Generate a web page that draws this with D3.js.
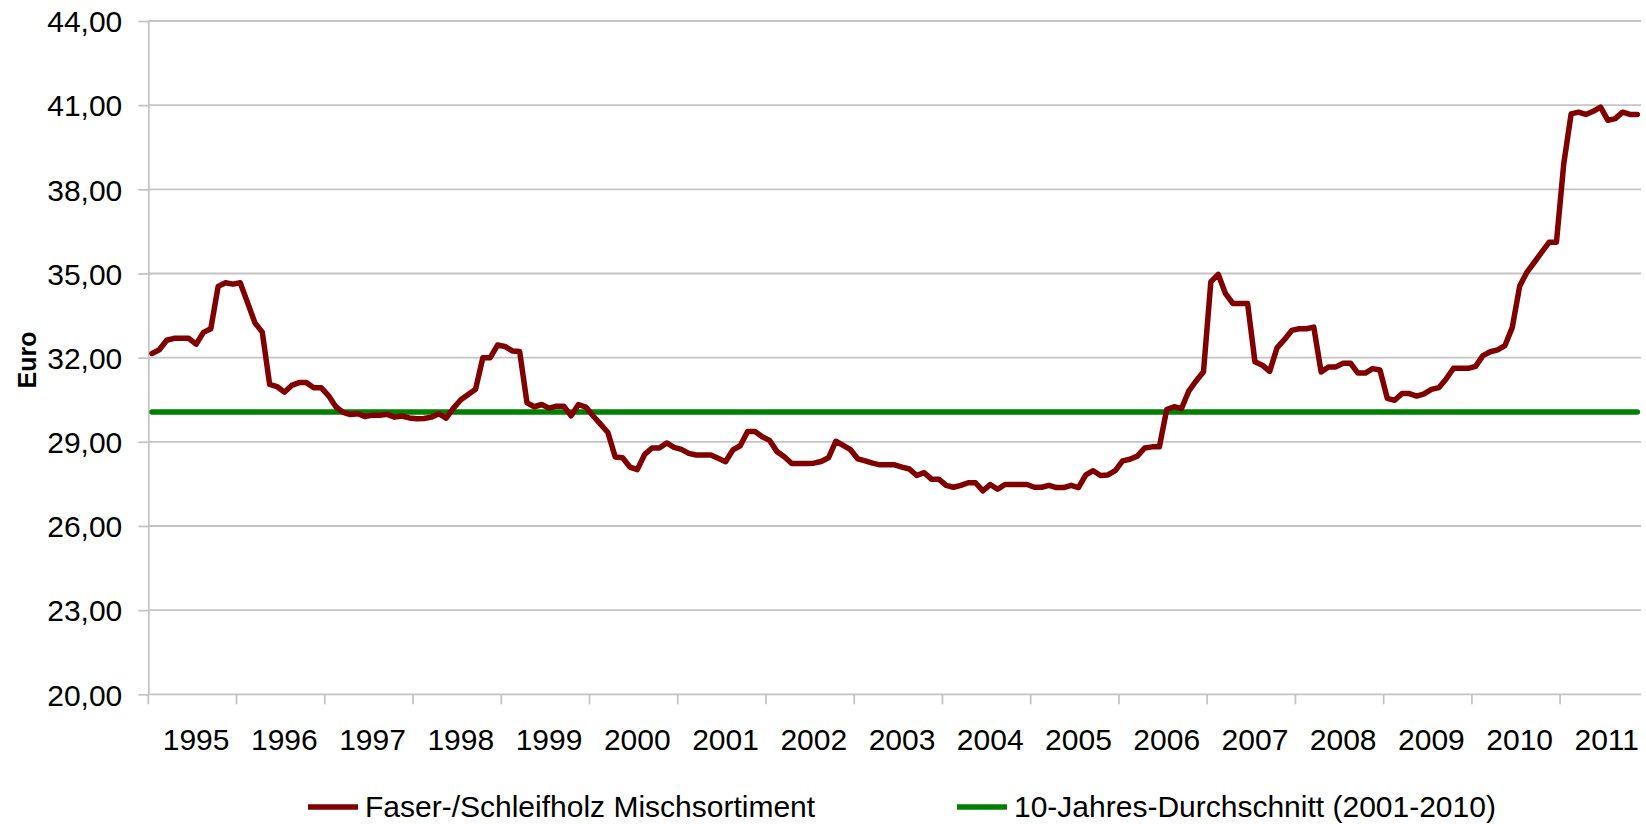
<!DOCTYPE html>
<html>
<head>
<meta charset="utf-8">
<script src="https://cdn.jsdelivr.net/npm/d3@7"></script>
<style>
  body { margin: 0; background: #fff; }
  svg { display: block; font-family: "Liberation Sans", Arial, sans-serif; }
</style>
</head>
<body>
<div id="chart"></div>
<script>
const width = 1646,
  height = 824;

// monthly prices, Jan 1995 - Nov 2011
const years = ["1995", "1996", "1997", "1998", "1999", "2000", "2001", "2002", "2003",
  "2004", "2005", "2006", "2007", "2008", "2009", "2010", "2011"];

const prices = [
  32.15, 32.28, 32.62, 32.69, 32.69, 32.69, 32.48, 32.9, 33.03, 34.54, 34.67, 34.62,
  34.67, 33.96, 33.24, 32.91, 31.05, 30.97, 30.77, 31.01, 31.11, 31.11, 30.93, 30.93,
  30.65, 30.25, 30.05, 29.97, 30.0, 29.9, 29.95, 29.95, 29.98, 29.88, 29.92, 29.85,
  29.82, 29.83, 29.88, 30.0, 29.84, 30.2, 30.5, 30.69, 30.87, 32.0, 32.0, 32.45,
  32.4, 32.24, 32.22, 30.39, 30.25, 30.33, 30.2, 30.27, 30.27, 29.93, 30.33, 30.24,
  29.92, 29.63, 29.33, 28.46, 28.43, 28.1, 28.01, 28.55, 28.78, 28.78, 28.96, 28.8,
  28.73, 28.59, 28.53, 28.53, 28.53, 28.41, 28.29, 28.71, 28.86, 29.37, 29.37, 29.18,
  29.05, 28.65, 28.47, 28.23, 28.23, 28.23, 28.24, 28.3, 28.43, 29.02, 28.87, 28.72,
  28.39, 28.32, 28.24, 28.18, 28.18, 28.18, 28.1, 28.03, 27.8, 27.9, 27.67, 27.67,
  27.45, 27.38, 27.45, 27.54, 27.54, 27.25, 27.48, 27.31, 27.48, 27.48, 27.48, 27.48,
  27.38, 27.38, 27.45, 27.37, 27.37, 27.45, 27.37, 27.82, 27.97, 27.8, 27.82, 27.97,
  28.32, 28.38, 28.49, 28.78, 28.82, 28.82, 30.15, 30.25, 30.18, 30.81, 31.17, 31.5,
  34.7, 34.97, 34.28, 33.93, 33.93, 33.93, 31.85, 31.73, 31.51, 32.35, 32.64, 32.97,
  33.03, 33.03, 33.09, 31.49, 31.67, 31.67, 31.8, 31.8, 31.45, 31.45, 31.61, 31.56,
  30.55, 30.48, 30.72, 30.72, 30.63, 30.71, 30.87, 30.93, 31.24, 31.62, 31.62, 31.62,
  31.69, 32.07, 32.21, 32.28, 32.43, 33.08, 34.55, 35.05, 35.4, 35.76, 36.11, 36.11,
  38.92, 40.69, 40.75, 40.67, 40.78, 40.93, 40.46, 40.52, 40.75, 40.67, 40.67
];

// 10-year average (2001-2010)
const averageValue = 30.06;

const yTicks = [20, 23, 26, 29, 32, 35, 38, 41, 44];
const seriesNames = ["Faser-/Schleifholz Mischsortiment", "10-Jahres-Durchschnitt (2001-2010)"];
const seriesColors = ["#800000", "#008000"];
const yTitle = "Euro";

const margin = { top: 21, right: 5, bottom: 129.7, left: 148.3 };
const gridColor = "#c4c4c4";

const deLocale = d3.formatLocale({ decimal: ",", thousands: ".", grouping: [3], currency: ["", " €"] });
const fmt = deLocale.format(".2f");

const svg = d3
  .select("#chart")
  .append("svg")
  .attr("width", width)
  .attr("height", height);

svg.append("rect").attr("width", width).attr("height", height).attr("fill", "#fff");

const x = d3
  .scaleBand()
  .domain(d3.range(prices.length))
  .range([margin.left, width - margin.right]);

const y = d3
  .scaleLinear()
  .domain([20, 44])
  .range([height - margin.bottom, margin.top]);

const cx = (i) => x(i) + x.bandwidth() / 2;

//y ticks and labels
const yAxis = svg
  .append("g")
  .attr("transform", `translate(${margin.left},0)`)
  .call(
    d3.axisLeft(y)
      .tickValues(yTicks)
      .tickSize(10)
      .tickSizeOuter(0)
      .tickPadding(16)
      .tickFormat(fmt)
  );

yAxis.select(".domain").attr("stroke", gridColor).attr("stroke-width", 1.8);
yAxis.selectAll(".tick line").attr("stroke", gridColor).attr("stroke-width", 1.8);
yAxis
  .selectAll(".tick text")
  .attr("font-size", 30)
  .attr("font-family", "Liberation Sans, Arial, sans-serif")
  .attr("fill", "#000")
  .attr("dy", "0.36em");

//horizontal gridlines
svg
  .append("g")
  .selectAll("line")
  .data(yTicks)
  .join("line")
  .attr("x1", margin.left)
  .attr("x2", width - margin.right)
  .attr("y1", (d) => y(d))
  .attr("y2", (d) => y(d))
  .attr("stroke", gridColor)
  .attr("stroke-width", 1.8);

//x axis: ticks at each year boundary, labels in the middle of the year
const yearStarts = years.map((yr, k) => k * 12);
const bottom = y(20);

svg
  .append("line")
  .attr("x1", margin.left)
  .attr("x2", margin.left)
  .attr("y1", bottom)
  .attr("y2", bottom + 10)
  .attr("stroke", gridColor)
  .attr("stroke-width", 1.8);

svg
  .append("g")
  .selectAll("line")
  .data(yearStarts.slice(1))
  .join("line")
  .attr("x1", (d) => x(d))
  .attr("x2", (d) => x(d))
  .attr("y1", bottom)
  .attr("y2", bottom + 10)
  .attr("stroke", gridColor)
  .attr("stroke-width", 1.8);

svg
  .append("g")
  .selectAll("text")
  .data(years)
  .join("text")
  .attr("x", (d, k) => cx(Math.min(k * 12 + 6, prices.length - 1)))
  .attr("y", 750)
  .attr("text-anchor", "middle")
  .attr("font-size", 30)
  .attr("fill", "#000")
  .text((d) => d)
  .each(function () {
    // keep the last label inside the chart like Excel does
    const w = this.getComputedTextLength();
    const xr = width - margin.right - 2;
    if (+this.getAttribute("x") + w / 2 > xr) this.setAttribute("x", xr - w / 2);
  });

//y axis title
svg
  .append("text")
  .attr("transform", "translate(36,360) rotate(-90)")
  .attr("text-anchor", "middle")
  .attr("font-size", 25)
  .attr("font-weight", "bold")
  .attr("fill", "#000")
  .text(yTitle);

//lines
const line = d3
  .line()
  .x((d) => cx(d[0]))
  .y((d) => y(d[1]));

svg
  .append("path")
  .datum([[0, averageValue], [prices.length - 1, averageValue]])
  .attr("fill", "none")
  .attr("stroke", seriesColors[1])
  .attr("stroke-width", 5.5)
  .attr("stroke-linecap", "round")
  .attr("d", line);

svg
  .append("path")
  .datum(prices.map((v, i) => [i, v]))
  .attr("fill", "none")
  .attr("stroke", seriesColors[0])
  .attr("stroke-width", 5.5)
  .attr("stroke-linejoin", "round")
  .attr("stroke-linecap", "round")
  .attr("d", line);

//legend
const legendPos = [308, 957];
const legend = svg
  .append("g")
  .selectAll("g")
  .data(seriesNames)
  .join("g")
  .attr("transform", (d, i) => `translate(${legendPos[i]},807)`);

legend
  .append("line")
  .attr("x1", 0)
  .attr("x2", 50)
  .attr("stroke", (d, i) => seriesColors[i])
  .attr("stroke-width", 5.5);

legend
  .append("text")
  .attr("x", 57)
  .attr("y", 10)
  .attr("font-size", 30)
  .attr("fill", "#000")
  .text((d) => d);
</script>
</body>
</html>
